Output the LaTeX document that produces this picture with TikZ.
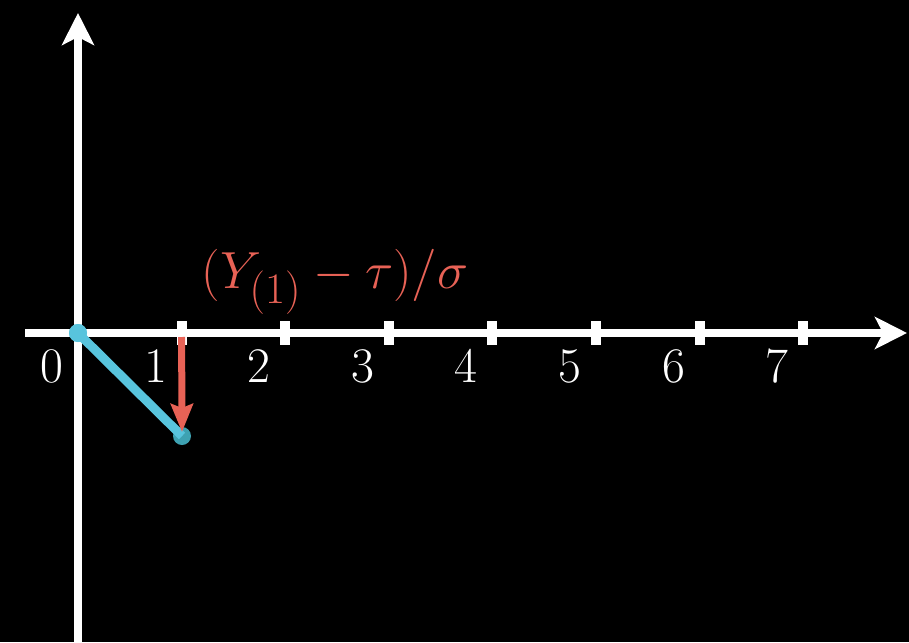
\documentclass[tikz,border=0pt]{standalone}
\usepackage{amsmath}
\usetikzlibrary{arrows.meta, positioning}
\definecolor{lineblue}{RGB}{88,196,221}
\definecolor{dotteal}{RGB}{62,162,178}
\definecolor{shiftred}{RGB}{232,98,86}

\begin{document}
\begin{tikzpicture}[
  x=0.5pt, y=-0.5pt,
  axis/.style={draw=white, line width=4pt, -{Stealth[length=16pt, width=16pt, inset=4pt]}},
  tickmark/.style={rectangle, fill=white, minimum width=5pt, minimum height=12pt, inner sep=0pt},
  numlabel/.style={text=white, inner sep=0pt, font=\Huge},
  dotmark/.style={circle, fill=lineblue, minimum size=9pt, inner sep=0pt},
  segment/.style={draw=lineblue, line width=4.5pt},
  shiftarrow/.style={draw=shiftred, line width=3.5pt, -{Stealth[length=14pt, width=11pt, inset=2pt]}},
  shiftlabel/.style={text=shiftred, inner sep=0pt, font=\Huge, scale=1.05}
]
\useasboundingbox (0,0) rectangle (909,642);
\fill[black] (0,0) rectangle (909,642);

% axes
\coordinate (O) at (78,333);
\coordinate (ybot) at (78,642);
\coordinate (ytop) at (78,13);
\coordinate (xleft) at (25,333);
\coordinate (xright) at (907,333);
\draw[axis] (ybot) -- (ytop);
\draw[axis] (xleft) -- (xright);

% ticks and numbers
\foreach \k in {1,...,7}
  \node[tickmark] (t\k) at ({78+103.6*\k},333) {};
\foreach \k in {0,...,7}
  \node[numlabel] (n\k) at ({52+103.6*\k},366) {$\k$};

% shifted point
\node[dotmark] (start) at (O) {};
\node[dotmark, fill=dotteal] (end) at (182,436) {};
\draw[segment] (start.center) -- (end.center);
\node[dotmark] at (start) {};
\draw[shiftarrow] ([yshift=-2pt]t1.center) -- ([yshift=2pt]end.center);
\node[shiftlabel] (lab) at (335,282) {$(Y_{(1)}-\tau)/\sigma$};
\end{tikzpicture}
\end{document}
